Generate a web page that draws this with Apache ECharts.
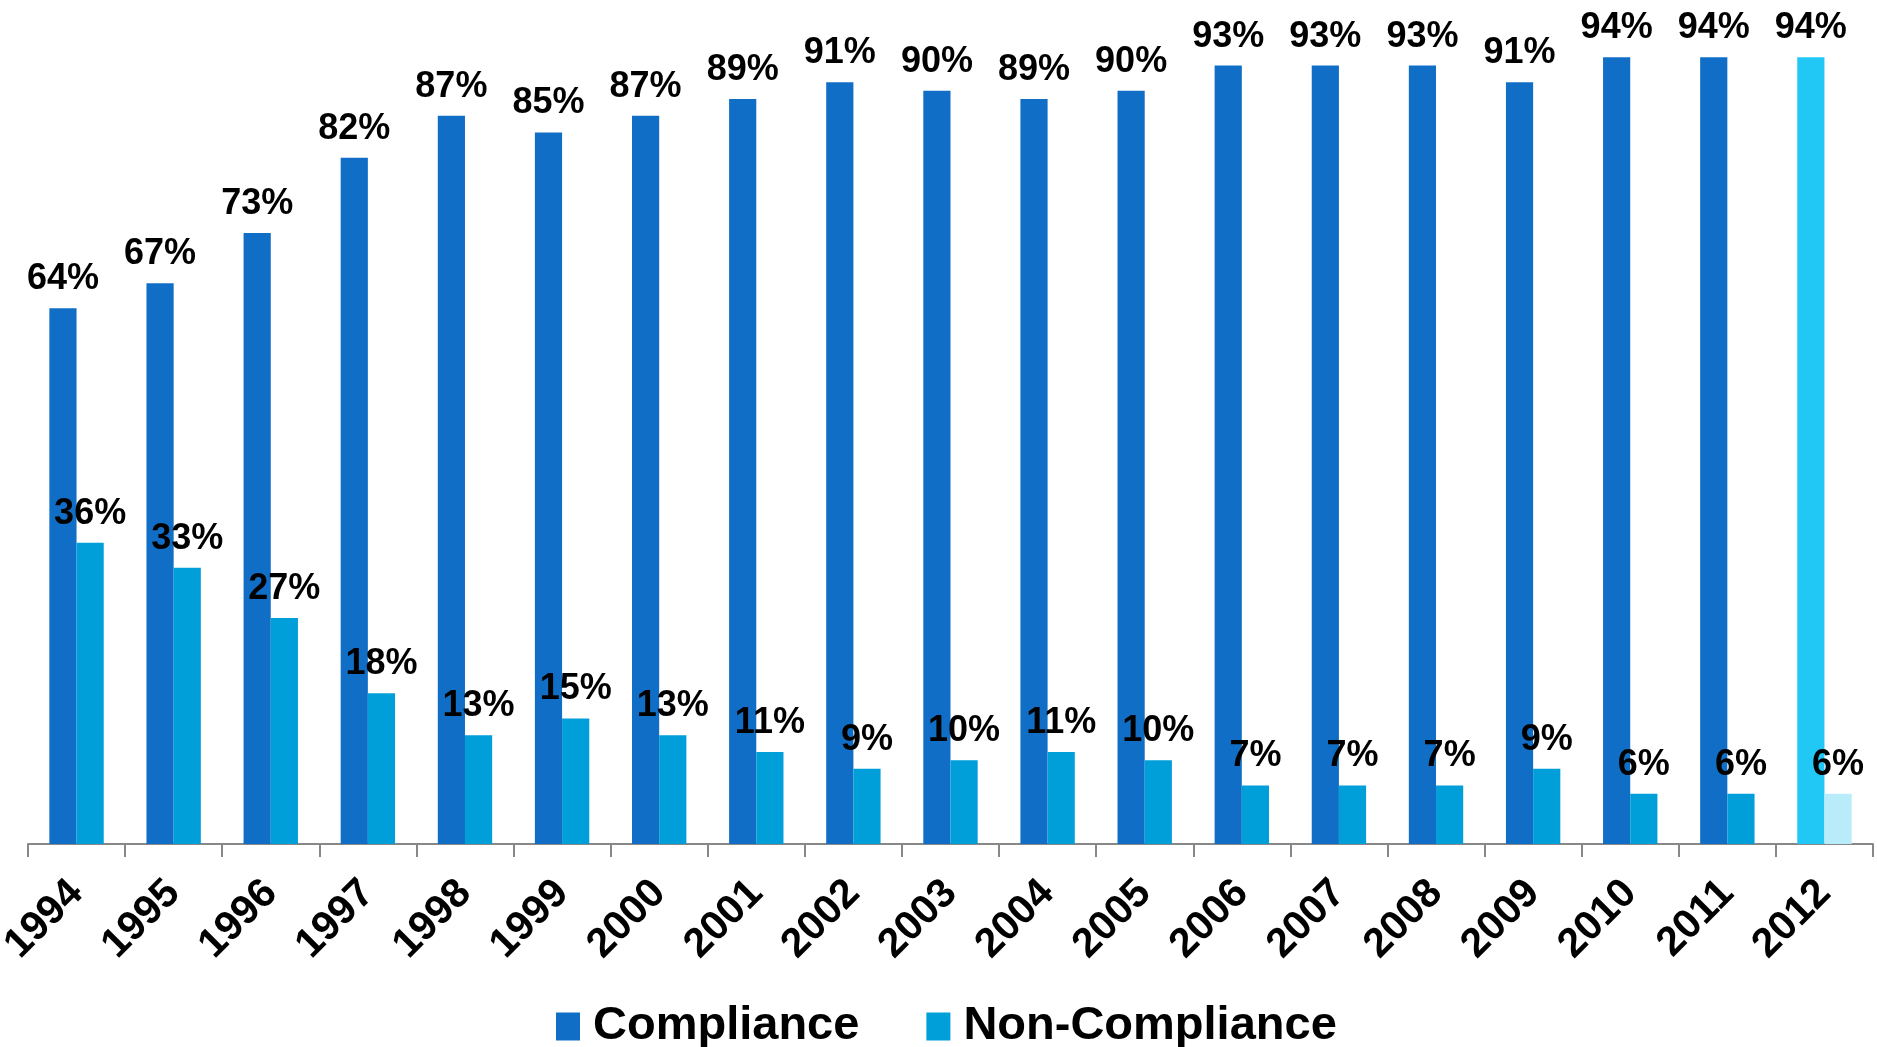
<!DOCTYPE html>
<html>
<head>
<meta charset="utf-8">
<script src="https://cdn.jsdelivr.net/npm/echarts@6/dist/echarts.min.js"></script>
<style>
html,body{margin:0;padding:0;background:#fff;}
#chart{width:1877px;height:1047px;}
</style>
</head>
<body>
<div id="chart"></div>
<script>
const years = ['1994','1995','1996','1997','1998','1999','2000','2001','2002','2003','2004','2005','2006','2007','2008','2009','2010','2011','2012'];
const compliance = [64,67,73,82,87,85,87,89,91,90,89,90,93,93,93,91,94,94,94];
const nonCompliance = [36,33,27,18,13,15,13,11,9,10,11,10,7,7,7,9,6,6,6];
const highlightYear = '2012';
const colCompliance = '#106EC6';
const colNon = '#009FD9';
const colComplianceHi = '#21C8F6';
const colNonHi = '#B8ECFB';

const FONT = "'Liberation Sans', Arial, sans-serif";

function items(vals, hi) {
  return vals.map((v, i) => years[i] === highlightYear
    ? { value: v, itemStyle: { color: hi } }
    : { value: v });
}

const labelStyle = {
  show: true,
  position: 'top',
  distance: 11,
  formatter: '{c}%',
  color: '#000',
  fontFamily: FONT,
  fontWeight: 'bold',
  fontSize: 36
};

const chart = echarts.init(document.getElementById('chart'));
chart.setOption({
  animation: false,
  backgroundColor: '#fff',
  grid: { left: 28, right: 4, top: 7, bottom: 203, containLabel: false, outerBoundsMode: 'none' },
  legend: {
    top: 998,
    left: 551,
    icon: 'rect',
    itemWidth: 24,
    itemHeight: 28,
    itemGap: 67,
    textStyle: { fontFamily: FONT, fontWeight: 'bold', fontSize: 47, color: '#000', padding: [0, 0, 0, 8] },
    data: ['Compliance', 'Non-Compliance']
  },
  xAxis: {
    type: 'category',
    data: years,
    axisLine: { lineStyle: { color: '#888', width: 2 } },
    axisTick: { show: true, length: 13, lineStyle: { color: '#888', width: 2 } },
    axisLabel: {
      interval: 0,
      rotate: 45,
      margin: 43,
      padding: [14, 0, 0, 0],
      color: '#000',
      fontFamily: FONT,
      fontWeight: 'bold',
      fontSize: 41
    }
  },
  yAxis: {
    type: 'value',
    min: 0,
    max: 100,
    show: false,
    splitLine: { show: false }
  },
  series: [
    {
      name: 'Compliance',
      type: 'bar',
      data: items(compliance, colComplianceHi),
      itemStyle: { color: colCompliance },
      barWidth: '28%',
      barGap: '0%',
      label: labelStyle
    },
    {
      name: 'Non-Compliance',
      type: 'bar',
      data: items(nonCompliance, colNonHi),
      itemStyle: { color: colNon },
      barWidth: '28%',
      barGap: '0%',
      label: labelStyle
    }
  ]
});
</script>
</body>
</html>
